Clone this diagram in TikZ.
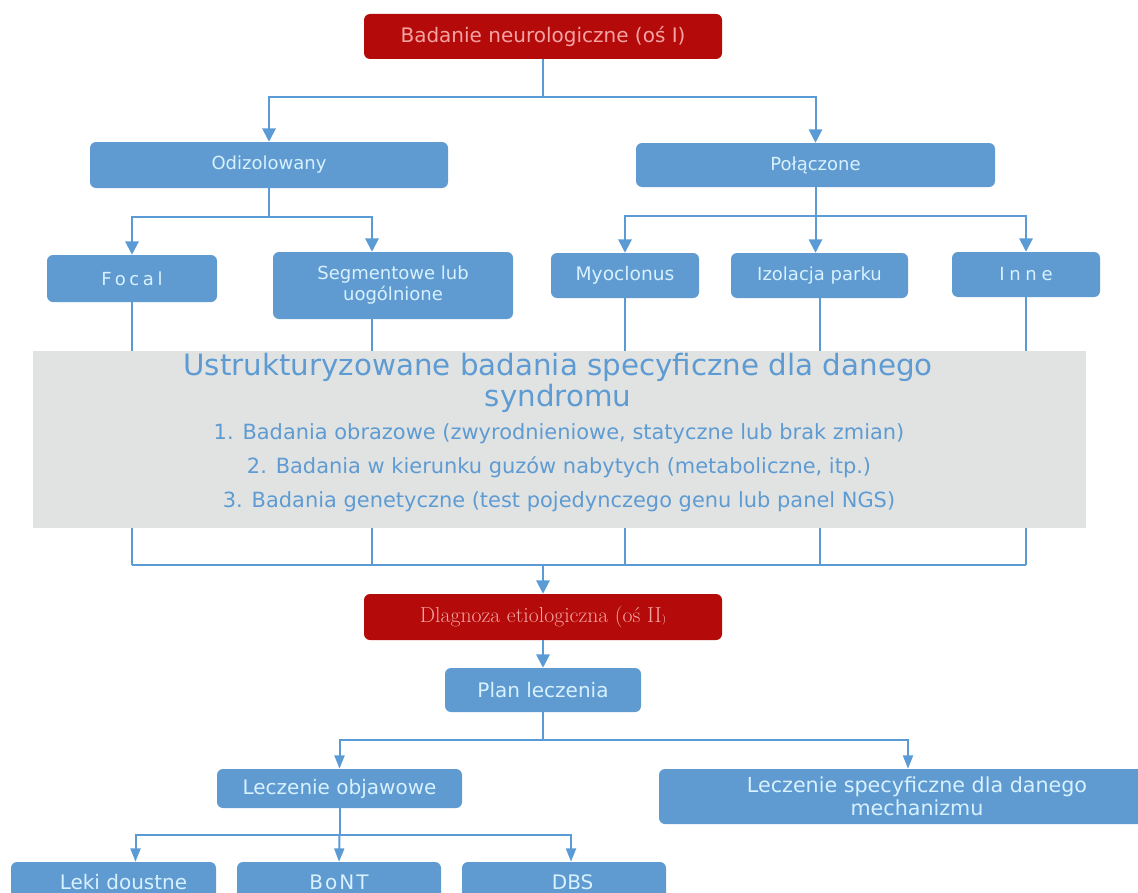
\documentclass[tikz,border=0pt]{standalone}
\usepackage{fontspec}
\newfontfamily\dv{DejaVu Sans}
\usetikzlibrary{arrows.meta}
\definecolor{boxblue}{HTML}{5F9BD1}
\definecolor{lineblue}{HTML}{5B9BD5}
\definecolor{boxred}{HTML}{B50A0A}
\definecolor{redtext}{HTML}{F5A3A3}
\definecolor{lighttext}{HTML}{D8F1FF}
\definecolor{greybg}{HTML}{E1E3E2}
\definecolor{greytext}{HTML}{5E9BD3}
\begin{document}
\begin{tikzpicture}[x=0.75pt,y=-0.75pt,
  bluebox/.style={fill=boxblue, rounded corners=4.5pt, text=lighttext, inner sep=0pt, align=center,
    font=\dv\fontsize{13.5}{15.75}\selectfont},
  bigtext/.style={font=\dv\fontsize{15}{17.5}\selectfont},
  redbox/.style={fill=boxred, rounded corners=4.5pt, text=redtext, inner sep=0pt, align=center},
  conn/.style={draw=lineblue, line width=1.5pt},
  arr/.style={conn, -{Triangle[length=10pt,width=10pt]}},
  smallarr/.style={conn, -{Triangle[length=10pt,width=7.5pt]}},
  greytxt/.style={text=greytext, inner sep=0pt, align=center},
]
\useasboundingbox (0,0) rectangle (1138,892);
\clip (0,0) rectangle (1138,892);

% top
\node[redbox, minimum width=268.5pt, minimum height=33.75pt, font=\dv\fontsize{15}{17}\selectfont] (top) at (543,36.5) {Badanie neurologiczne (oś I)};
\node[bluebox, minimum width=268.5pt, minimum height=34.5pt] (odiz) at (269,165) {Odizolowany};
\node[bluebox, minimum width=269.25pt, minimum height=33pt] (pol) at (815.5,165) {Połączone};

\node[bluebox, minimum width=127.5pt, minimum height=35.25pt] (focal) at (132,278.5) {\addfontfeature{LetterSpace=20}Focal};
\node[bluebox, minimum width=180pt, minimum height=50.25pt] (seg) at (393,285.5) {Segmentowe lub\\uogólnione};
\node[bluebox, minimum width=111pt, minimum height=33.75pt, font=\dv\fontsize{14}{16}\selectfont] (myo) at (625,275.5) {Myoclonus};
\node[bluebox, minimum width=132.75pt, minimum height=33.75pt] (izo) at (819.5,275.5) {Izolacja parku};
\node[bluebox, minimum width=111pt, minimum height=33.75pt] (inne) at (1026,274.5) {\addfontfeature{LetterSpace=26}Inne};

% connectors upper
\coordinate (s1) at (543,97);
\draw[arr] (top.south) -- (s1) -| (odiz.north);
\draw[arr] (s1) -| (pol.north);
\coordinate (s2) at (269,217);
\draw[arr] (odiz.south) -- (s2) -| (focal.north);
\draw[arr] (s2) -| ([xshift=-15.75pt]seg.north);
\coordinate (s3) at (815.5,216);
\draw[arr] (pol.south) -- (pol.south |- izo.north);
\draw[arr] (s3) -| (myo.north);
\draw[arr] (s3) -| (inne.north);

% lines down to join
\coordinate (j) at (543,565);
\draw[conn] (focal.south) -- (focal.south |- j);
\draw[conn] ([xshift=-15.75pt]seg.south) -- ([xshift=-15.75pt]seg.south |- j);
\draw[conn] (myo.south) -- (myo.south |- j);
\draw[conn] (izo.south) -- (izo.south |- j);
\draw[conn] (inne.south) -- (inne.south |- j);
\draw[conn] (focal.south |- j) -- (inne.south |- j);

% grey box
\node[fill=greybg, inner sep=0pt, minimum width=789.75pt, minimum height=132.75pt] (grey) at (559.5,439.5) {};
\node[greytxt, font=\dv\fontsize{22}{23.25}\selectfont] (gt) at (558,382.5) {Ustrukturyzowane badania specyficzne dla danego\\syndromu};
\node[greytxt, font=\dv\fontsize{15.7}{18}\selectfont] (g1) at (559,434) {1. Badania obrazowe (zwyrodnieniowe, statyczne lub brak zmian)};
\node[greytxt, font=\dv\fontsize{15.7}{18}\selectfont] (g2) at (559,467) {2. Badania w kierunku guzów nabytych (metaboliczne, itp.)};
\node[greytxt, font=\dv\fontsize{15.7}{18}\selectfont] (g3) at (559,502) {3. Badania genetyczne (test pojedynczego genu lub panel NGS)};

% lower
\node[redbox, minimum width=268.5pt, minimum height=34.5pt, font=\fontsize{16.3}{18}\selectfont] (diag) at (543,617) {Dlagnoza etiologiczna (oś II{\footnotesize)}};
\node[bluebox, bigtext, minimum width=147pt, minimum height=33pt] (plan) at (543,690) {Plan leczenia};
\node[bluebox, bigtext, minimum width=183.75pt, minimum height=29.25pt] (lobj) at (339.5,788.5) {Leczenie objawowe};
\node[bluebox, minimum width=387pt, minimum height=41.25pt, font=\dv\fontsize{15.5}{17.5}\selectfont] (lspec) at (917,796.5) {Leczenie specyficzne dla danego\\mechanizmu};
\node[bluebox, bigtext, minimum width=153.75pt, minimum height=30pt] (leki) at (113.5,882) {\hspace*{15pt}Leki doustne};
\node[bluebox, bigtext, minimum width=153pt, minimum height=30pt] (bont) at (339,882) {\addfontfeature{LetterSpace=10}BoNT};
\node[bluebox, bigtext, minimum width=153pt, minimum height=30pt] (dbs) at (564,882) {\hspace*{13pt}DBS};

\draw[arr] (j) -- (diag.north);
\draw[arr] (diag.south) -- (plan.north);
\coordinate (s4) at (543,740);
\draw[conn] (plan.south) -- (s4);
\draw[smallarr] (s4) -| (lobj.north);
\draw[smallarr] (s4) -| ([xshift=-6.75pt]lspec.north);
\coordinate (s5) at (339.5,835);
\draw[conn] (lobj.south) -- (s5);
\draw[smallarr] (s5) -| ([xshift=16.5pt]leki.north);
\draw[smallarr] (s5) -- (bont.north);
\draw[smallarr] (s5) -| ([xshift=5.25pt]dbs.north);
\end{tikzpicture}
\end{document}
